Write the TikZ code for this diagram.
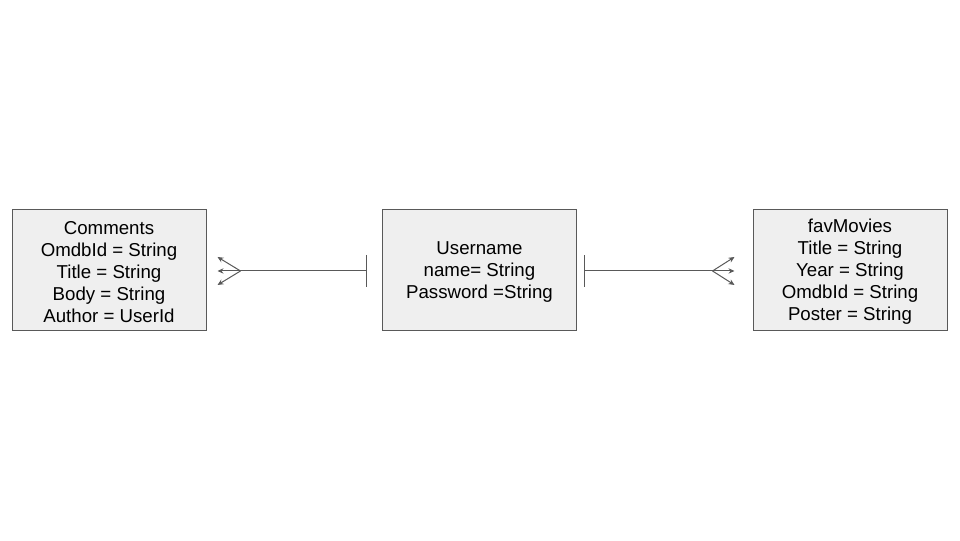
\documentclass[tikz,border=0pt]{standalone}
\usepackage{fontspec}
\setmainfont{Liberation Sans}
\usepackage{xcolor}
\usetikzlibrary{arrows.meta,positioning,calc}
\definecolor{cFill}{HTML}{EFEFEF}
\definecolor{cEdge}{HTML}{595959}
\definecolor{cInk}{HTML}{000000}
\tikzset{
  ent/.style={draw=cEdge,fill=cFill,line width=0.75pt,
    minimum width=145.5pt,minimum height=90.75pt,inner sep=0pt},
  enttxt/.style={align=center,text=cInk,inner sep=0pt,
    font=\fontsize{14}{16.5}\selectfont},
  rel/.style={draw=cEdge,line width=0.75pt},
  one/.style={rel,{Bar[width=24pt,line width=0.75pt]}-},
  many/.style={rel,-{Stealth[length=4.5pt,width=4pt]}},
}

\begin{document}
\begin{tikzpicture}[x=0.75pt,y=-0.75pt]
    \useasboundingbox (0,0) rectangle (960,540);
    % entities
    \node[ent] (comments) at (109,269.5) {};
    \node[ent] (username) at (479.5,269.5) {};
    \node[ent] (favmovies) at (850,269.5) {};
    \node[enttxt] (commentsTxt) at ([yshift=-1.8pt]comments.center) {Comments\\OmdbId = String\\Title = String\\Body = String\\Author = UserId};
    \node[enttxt] (usernameTxt) at ([yshift=-2.2pt]username.center) {Username\\name= String\\Password =String};
    \node[enttxt] (favmoviesTxt) at ([yshift=-1.8pt]favmovies.center) {favMovies\\Title = String\\Year = String\\OmdbId = String\\Poster = String};
    % crow's feet points
    \coordinate (lfork) at ([xshift=25.5pt,yshift=-1.1pt]comments.east);
    \coordinate (rfork) at ([xshift=-30pt,yshift=-1.1pt]favmovies.west);
    \coordinate (lbar) at ([xshift=-10.9pt,yshift=-1.1pt]username.west);
    \coordinate (rbar) at ([xshift=5.6pt,yshift=-1.1pt]username.east);
    % relations
    \draw[one] (lbar) -- (lfork);
    \draw[one] (rbar) -- (rfork);
    \foreach \dy in {-14,0,14}{
      \draw[many] (lfork) -- ++(-23,\dy);
      \draw[many] (rfork) -- ++(22,\dy);}
  \end{tikzpicture}
\end{document}
